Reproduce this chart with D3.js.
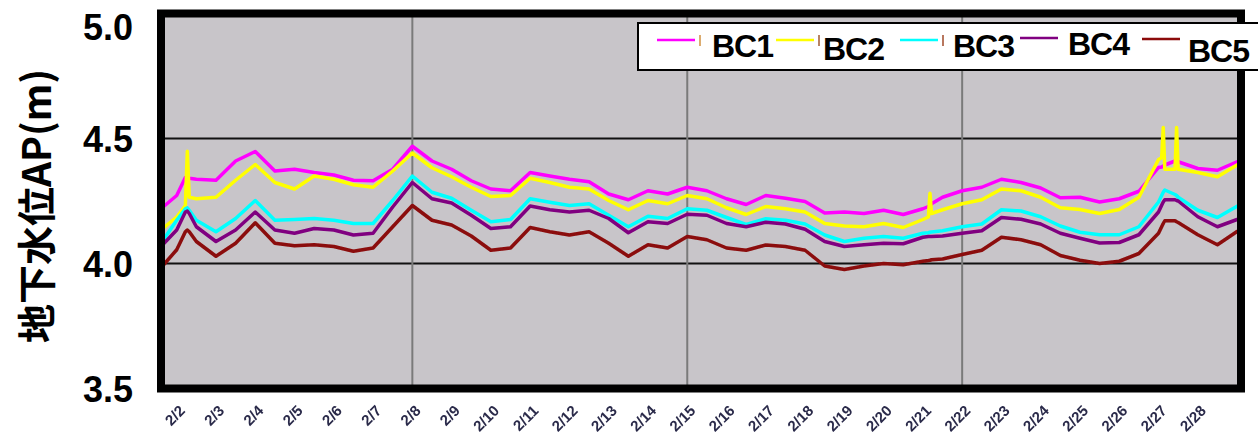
<!DOCTYPE html>
<html><head><meta charset="utf-8">
<script src="https://cdn.jsdelivr.net/npm/d3@7"></script>
<style>body{margin:0;background:#fff} svg{display:block}</style>
</head><body>
<svg id="c" width="1258" height="441"></svg>
<script>
// ---- data ----
const days = [1.6, 2.0, 2.22, 2.27, 2.32, 2.5, 3.0, 3.5, 4.0, 4.5, 5.0, 5.5, 6.0, 6.5, 7.0, 7.5, 8.0, 8.5,
  9.0, 9.5, 10.0, 10.5, 11.0, 11.5, 12.0, 12.5, 13.0, 13.5, 14.0, 14.5, 15.0, 15.5, 16.0,
  16.5, 17.0, 17.5, 18.0, 18.5, 19.0, 19.5, 20.0, 20.5, 21.0, 21.14, 21.18, 21.22,
  21.5, 22.0, 22.5, 23.0, 23.5, 24.0, 24.5, 25.0, 25.5, 26.0, 26.5, 27.0,
  27.08, 27.12, 27.16, 27.42, 27.46, 27.5, 28.0, 28.5, 29.0, 29.1];
const bc1 = [4.219, 4.272, 4.344, 4.344, 4.341, 4.337, 4.333, 4.410, 4.448, 4.370, 4.377, 4.364, 4.354, 4.333, 4.331, 4.377, 4.469, 4.410,
  4.377, 4.331, 4.298, 4.291, 4.364, 4.350, 4.337, 4.327, 4.278, 4.255, 4.291, 4.278, 4.305, 4.291, 4.259,
  4.236, 4.272, 4.261, 4.248, 4.202, 4.206, 4.200, 4.213, 4.196, 4.219, 4.228, 4.232, 4.239,
  4.265, 4.291, 4.305, 4.337, 4.324, 4.302, 4.263, 4.265, 4.246, 4.259, 4.289, 4.384,
  4.386, 4.390, 4.394, 4.410, 4.410, 4.407, 4.380, 4.373, 4.407, 4.412];
const bc2 = [4.134, 4.186, 4.232, 4.449, 4.265, 4.259, 4.265, 4.333, 4.396, 4.324, 4.298, 4.350, 4.337, 4.315, 4.305, 4.370, 4.442, 4.383,
  4.347, 4.305, 4.268, 4.272, 4.341, 4.324, 4.305, 4.298, 4.252, 4.215, 4.252, 4.239, 4.272, 4.259, 4.223,
  4.196, 4.228, 4.219, 4.206, 4.160, 4.150, 4.147, 4.160, 4.144, 4.176, 4.186, 4.281, 4.200,
  4.215, 4.239, 4.255, 4.298, 4.291, 4.265, 4.223, 4.216, 4.200, 4.216, 4.265, 4.416,
  4.423, 4.544, 4.377, 4.377, 4.544, 4.377, 4.364, 4.347, 4.394, 4.399];
const bc3 = [4.081, 4.173, 4.219, 4.223, 4.213, 4.173, 4.127, 4.180, 4.252, 4.173, 4.176, 4.180, 4.173, 4.160, 4.160, 4.252, 4.350, 4.285,
  4.261, 4.213, 4.167, 4.176, 4.259, 4.245, 4.232, 4.239, 4.193, 4.147, 4.189, 4.180, 4.219, 4.213, 4.184,
  4.156, 4.179, 4.173, 4.158, 4.114, 4.088, 4.101, 4.108, 4.101, 4.121, 4.123, 4.125, 4.126,
  4.131, 4.147, 4.158, 4.215, 4.210, 4.187, 4.150, 4.125, 4.115, 4.115, 4.147, 4.246,
  4.272, 4.285, 4.294, 4.276, 4.272, 4.265, 4.213, 4.184, 4.229, 4.237];
const bc4 = [4.068, 4.134, 4.206, 4.210, 4.200, 4.147, 4.088, 4.134, 4.206, 4.134, 4.121, 4.140, 4.134, 4.114, 4.121, 4.226, 4.324, 4.259,
  4.242, 4.193, 4.140, 4.147, 4.230, 4.215, 4.206, 4.213, 4.180, 4.123, 4.167, 4.160, 4.197, 4.193, 4.160,
  4.147, 4.165, 4.158, 4.137, 4.088, 4.068, 4.075, 4.081, 4.079, 4.105, 4.108, 4.108, 4.108,
  4.110, 4.121, 4.131, 4.184, 4.177, 4.158, 4.121, 4.101, 4.082, 4.084, 4.115, 4.206,
  4.233, 4.246, 4.255, 4.255, 4.252, 4.250, 4.187, 4.147, 4.176, 4.184];
const bc5 = [3.983, 4.055, 4.127, 4.134, 4.127, 4.088, 4.029, 4.081, 4.163, 4.081, 4.071, 4.075, 4.068, 4.049, 4.062, 4.147, 4.232, 4.173,
  4.154, 4.110, 4.053, 4.062, 4.144, 4.127, 4.114, 4.127, 4.081, 4.029, 4.075, 4.062, 4.108, 4.095, 4.062,
  4.053, 4.074, 4.068, 4.053, 3.990, 3.976, 3.990, 4.000, 3.995, 4.009, 4.012, 4.013, 4.015,
  4.018, 4.036, 4.053, 4.105, 4.095, 4.075, 4.032, 4.013, 4.000, 4.009, 4.040, 4.121,
  4.147, 4.160, 4.171, 4.171, 4.167, 4.164, 4.115, 4.075, 4.128, 4.137];
const seriesNames = ["BC1", "BC2", "BC3", "BC4", "BC5"];
const seriesValues = [bc1, bc2, bc3, bc4, bc5];
const seriesColors = ["#ff00ff", "#ffff00", "#00ffff", "#800080", "#8b0a0a"];
const tickDays = [2, 3, 4, 5, 6, 7, 8, 9, 10, 11, 12, 13, 14, 15, 16, 17, 18, 19, 20, 21, 22, 23, 24, 25, 26, 27, 28];
const tickLabels = ["2/2", "2/3", "2/4", "2/5", "2/6", "2/7", "2/8", "2/9", "2/10", "2/11", "2/12", "2/13", "2/14", "2/15",
  "2/16", "2/17", "2/18", "2/19", "2/20", "2/21", "2/22", "2/23", "2/24", "2/25", "2/26", "2/27", "2/28"];
const weekDays = [8, 15, 22];
const yTicks = [3.5, 4.0, 4.5, 5.0];
const yGrid = [4.0, 4.5];
const yTitle = "地下水位AP(m)";

// ---- layout ----
const svg = d3.select("#c");
const L = 161, R = 1241, T = 13.5, B = 388.5;
const x = d3.scaleLinear().domain([1.6, 29.1]).range([L, R]);
const y = d3.scaleLinear().domain([3.5, 5.0]).range([B, T]);

const defs = svg.append("defs");
defs.append("filter").attr("id", "soft").append("feGaussianBlur").attr("stdDeviation", 0.45);
defs.append("filter").attr("id", "soft2").append("feGaussianBlur").attr("stdDeviation", 0.35);

svg.append("rect").attr("x", L).attr("y", T).attr("width", R - L).attr("height", B - T).attr("fill", "#c8c5c9");

svg.append("g").selectAll("line").data(yGrid).join("line")
  .attr("x1", L).attr("x2", R).attr("y1", d => y(d)).attr("y2", d => y(d))
  .attr("stroke", "#111").attr("stroke-width", 2);
svg.append("g").selectAll("line").data(weekDays).join("line")
  .attr("x1", d => x(d)).attr("x2", d => x(d)).attr("y1", T).attr("y2", B)
  .attr("stroke", "#7a7a7a").attr("stroke-width", 2);

const line = d3.line().x(d => x(d[0])).y(d => y(d[1]));
const lines = svg.append("g").attr("filter", "url(#soft)");
seriesValues.forEach((vals, i) => {
  lines.append("path").datum(days.map((d, k) => [d, vals[k]]))
    .attr("d", line).attr("fill", "none").attr("stroke", seriesColors[i])
    .attr("stroke-width", 3.5).attr("stroke-linejoin", "round");
});

svg.append("rect").attr("x", L).attr("y", T).attr("width", R - L).attr("height", B - T)
  .attr("fill", "none").attr("stroke", "#000").attr("stroke-width", 8);

// y axis
const ya = svg.append("g").attr("transform", `translate(${L},0)`)
  .call(d3.axisLeft(y).tickValues(yTicks).tickFormat(d3.format(".1f")).tickSize(0).tickPadding(28));
ya.select(".domain").remove();
ya.selectAll("text").attr("font-family", "'Liberation Sans', Arial, sans-serif")
  .attr("font-size", 36).attr("font-weight", "bold").attr("fill", "#000").attr("dy", "0.36em");
ya.selectAll(".tick").filter(d => d === 5.0).attr("transform", "translate(0,27)");

// x axis
const xa = svg.append("g").attr("transform", `translate(0,392)`).attr("filter", "url(#soft2)")
  .call(d3.axisBottom(x).tickValues(tickDays).tickFormat((d, i) => tickLabels[i]).tickSize(0));
xa.select(".domain").remove();
xa.selectAll("text").attr("font-family", "'Liberation Sans', Arial, sans-serif")
  .attr("font-size", 15).attr("font-weight", "bold").attr("fill", "#2a2a4a")
  .attr("text-anchor", "end").attr("x", 0).attr("y", 0).attr("dy", "0.35em")
  .attr("transform", "translate(5,16) rotate(-45)");

// y title
svg.append("text").attr("transform", "translate(34,206) rotate(-90)")
  .attr("text-anchor", "middle").attr("dominant-baseline", "central")
  .attr("font-family", "'Noto Sans CJK JP', sans-serif").attr("font-weight", "bold")
  .attr("font-size", 39).attr("fill", "#000").text(yTitle);

// legend
const lg = svg.append("g");
lg.append("rect").attr("x", 638).attr("y", 23).attr("width", 640).attr("height", 47)
  .attr("fill", "#fff").attr("stroke", "#000").attr("stroke-width", 2);
const lineX = [657, 776, 900, 1020, 1142];
const textX = [712, 823, 953, 1068, 1188];
const textY = [57, 60, 57, 55, 62];
const lineY = [40, 40, 40, 38, 39];
const markColors = ["#d09040", "#a05a30", "#a04a28", null, null];
seriesNames.forEach((n, i) => {
  lg.append("line").attr("x1", lineX[i]).attr("x2", lineX[i] + 38).attr("y1", lineY[i]).attr("y2", lineY[i])
    .attr("stroke", seriesColors[i]).attr("stroke-width", 2.5);
  if (markColors[i]) lg.append("line").attr("x1", lineX[i] + 43).attr("x2", lineX[i] + 43)
    .attr("y1", lineY[i] - 5).attr("y2", lineY[i] + 6).attr("stroke", markColors[i]).attr("stroke-width", 1.5);
  lg.append("text").attr("x", textX[i]).attr("y", textY[i])
    .attr("font-family", "'Liberation Sans', Arial, sans-serif").attr("font-size", 32)
    .attr("font-weight", "bold").attr("letter-spacing", -1).attr("fill", "#000").text(n);
});
</script>
</body></html>
